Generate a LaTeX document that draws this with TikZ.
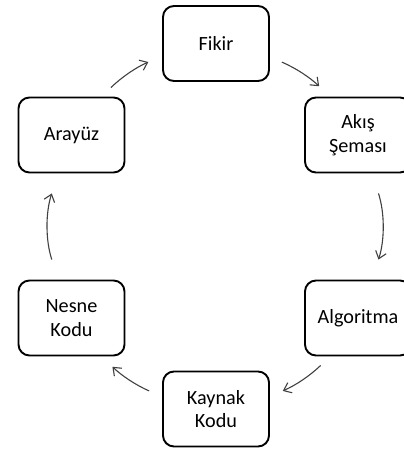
\documentclass[tikz,border=0pt]{standalone}
\usepackage{fontspec}
\setmainfont{Carlito}
\usetikzlibrary{arrows.meta}
\begin{document}
\begin{tikzpicture}[x=1pt,y=1pt,
  box/.style={draw=black, line width=1.9pt, rounded corners=11pt,
    minimum width=106pt, minimum height=75pt, align=center, inner sep=0pt,
    font=\fontsize{20.2}{23.5}\selectfont},
  flow/.style={-{Straight Barb[length=7pt,width=11pt]}, line width=1.1pt, draw=black!75}]
\useasboundingbox (0,0) rectangle (404,451);
\clip (0,0) rectangle (404,451);
\node[box] (fikir)  at (216,407.5) {Fikir};
\node[box] (akis)   at (358,316)   {Akış\\Şeması};
\node[box] (algo)   at (358,133)   {Algoritma};
\node[box] (kaynak) at (216,42)    {Kaynak\\Kodu};
\node[box] (nesne)  at (71.5,133)  {Nesne\\Kodu};
\node[box] (arayuz) at (71.5,316)  {Arayüz};
\draw[flow, shorten <=13pt, shorten >=15pt] (arayuz.52) to[bend left=10] (fikir.193);
\draw[flow, shorten <=13pt, shorten >=15pt] (fikir.-14) to[bend left=10] (akis.126);
\draw[flow, shorten <=21pt, shorten >=21pt] (akis.-70) to[bend left=18] (algo.70);
\draw[flow, shorten <=13pt, shorten >=14pt] (algo.234) to[bend left=10] (kaynak.13);
\draw[flow, shorten <=14pt, shorten >=15pt] (kaynak.167) to[bend left=10] (nesne.-52);
\draw[flow, shorten <=21pt, shorten >=21pt] (nesne.109) to[bend left=18] (arayuz.-109);
\end{tikzpicture}
\end{document}
